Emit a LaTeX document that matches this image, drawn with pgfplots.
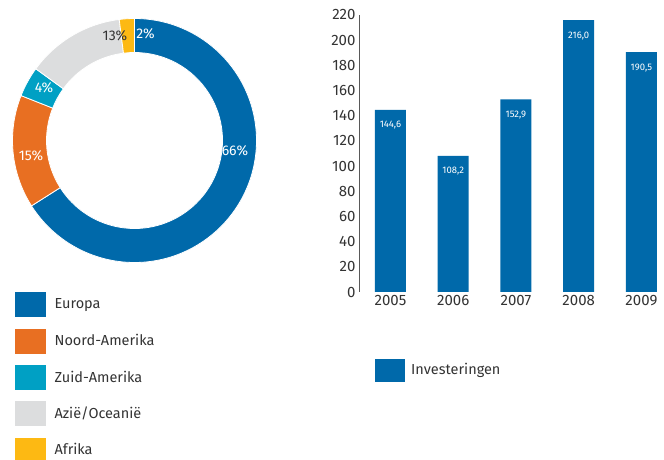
\documentclass[border=0pt]{standalone}
\usepackage{fontspec}
\setmainfont{Fira Sans}
\usepackage{pgfplots}
\pgfplotsset{compat=1.18}
\definecolor{cEur}{HTML}{0069AA}
\definecolor{cNA}{HTML}{E86F22}
\definecolor{cZA}{HTML}{00A0C4}
\definecolor{cAZ}{HTML}{DCDDDE}
\definecolor{cAF}{HTML}{FDB913}
\definecolor{txt}{HTML}{333333}
\begin{document}
\begin{tikzpicture}
\useasboundingbox (0pt,0pt) rectangle (664pt,460pt);
% ---------------- donut ----------------
\begin{axis}[
  at={(4.5pt,189.5pt)}, anchor=south west,
  scale only axis, width=260pt, height=260pt,
  xmin=-130, xmax=130, ymin=-130, ymax=130,
  hide axis, clip=false,
  legend cell align=left,
  legend style={at={(axis cs:-119.5,-151.5)}, anchor=north west,
    draw=none, fill=none, inner sep=0pt, row sep=12pt, column sep=9pt,
    nodes={inner sep=0pt, text=txt, font=\fontsize{14.5}{16}\selectfont}},
]
\gdef\cum{0}
\foreach \p/\c in {66/cEur,15/cNA,4/cZA,13/cAZ,2/cAF} {
  \pgfmathsetmacro\a{90-3.6*\cum}
  \pgfmathsetmacro\b{90-3.6*(\cum+\p)}
  \edef\tmp{\noexpand\fill[\c, draw=white, line width=0.8pt, shift={(axis cs:0,0)}]
    (\a:122pt) arc[start angle=\a, end angle=\b, radius=122pt]
    -- (\b:88pt) arc[start angle=\b, end angle=\a, radius=88pt] -- cycle;}
  \tmp
  \pgfmathsetmacro\newcum{\cum+\p}
  \global\let\cum\newcum
}
\node[white, font=\fontsize{14}{16}\selectfont] at (axis cs:100.5,-10.5) {66\%};
\node[white, font=\fontsize{14}{16}\selectfont] at (axis cs:-103.5,-15.5) {15\%};
\node[white, font=\fontsize{14}{16}\selectfont] at (axis cs:-90.5,52.5) {4\%};
\node[txt, font=\fontsize{14}{16}\selectfont] at (axis cs:-19.5,104.5) {13\%};
\node[white, font=\fontsize{14}{16}\selectfont] at (axis cs:11,106.5) {2\%};
\addlegendimage{legend image code/.code={\fill[cEur] (0pt,-12pt) rectangle (30pt,12pt);}}
\addlegendentry{Europa}
\addlegendimage{legend image code/.code={\fill[cNA] (0pt,-12pt) rectangle (30pt,12pt);}}
\addlegendentry{Noord-Amerika}
\addlegendimage{legend image code/.code={\fill[cZA] (0pt,-12pt) rectangle (30pt,12pt);}}
\addlegendentry{Zuid-Amerika}
\addlegendimage{legend image code/.code={\fill[cAZ] (0pt,-12pt) rectangle (30pt,12pt);}}
\addlegendentry{Azië/Oceanië}
\addlegendimage{legend image code/.code={\fill[cAF] (0pt,-12pt) rectangle (30pt,12pt);}}
\addlegendentry{Afrika}
\end{axis}
% ---------------- bars ----------------
\begin{axis}[
  at={(359pt,168pt)}, anchor=south west,
  scale only axis, width=305pt, height=277pt,
  xmin=-0.502, xmax=4.36, ymin=0, ymax=220,
  ytick={0,20,...,220}, xtick={0,1,2,3,4},
  xticklabels={2005,2006,2007,2008,2009},
  axis lines*=left,
  x axis line style={draw=none},
  y axis line style={draw=black!65, line width=0.8pt, -},
  major tick length=0pt,
  tick label style={text=txt, font=\fontsize{15}{17}\selectfont},
  /pgf/number format/assume math mode=true,
  ybar, bar width=31pt,
  nodes near coords={\pgfmathprintnumber[use comma,fixed,fixed zerofill,precision=1]{\pgfplotspointmeta}},
  nodes near coords style={anchor=north, yshift=-8pt, text=white, font=\fontsize{9.5}{11}\selectfont},
  legend style={at={(rel axis cs:0.0525,-0.2816)}, anchor=west,
    draw=none, fill=none, inner sep=0pt, column sep=6pt,
    nodes={inner sep=0pt, text=txt, font=\fontsize{14.5}{16}\selectfont}},
]
\addplot[fill=cEur, draw=none,
  legend image code/.code={\fill[cEur] (0pt,-11.5pt) rectangle (30pt,11.5pt);}]
  coordinates {(0,144.6) (1,108.2) (2,152.9) (3,216.0) (4,190.5)};
\addlegendentry{Investeringen}
\end{axis}
\end{tikzpicture}
\end{document}
